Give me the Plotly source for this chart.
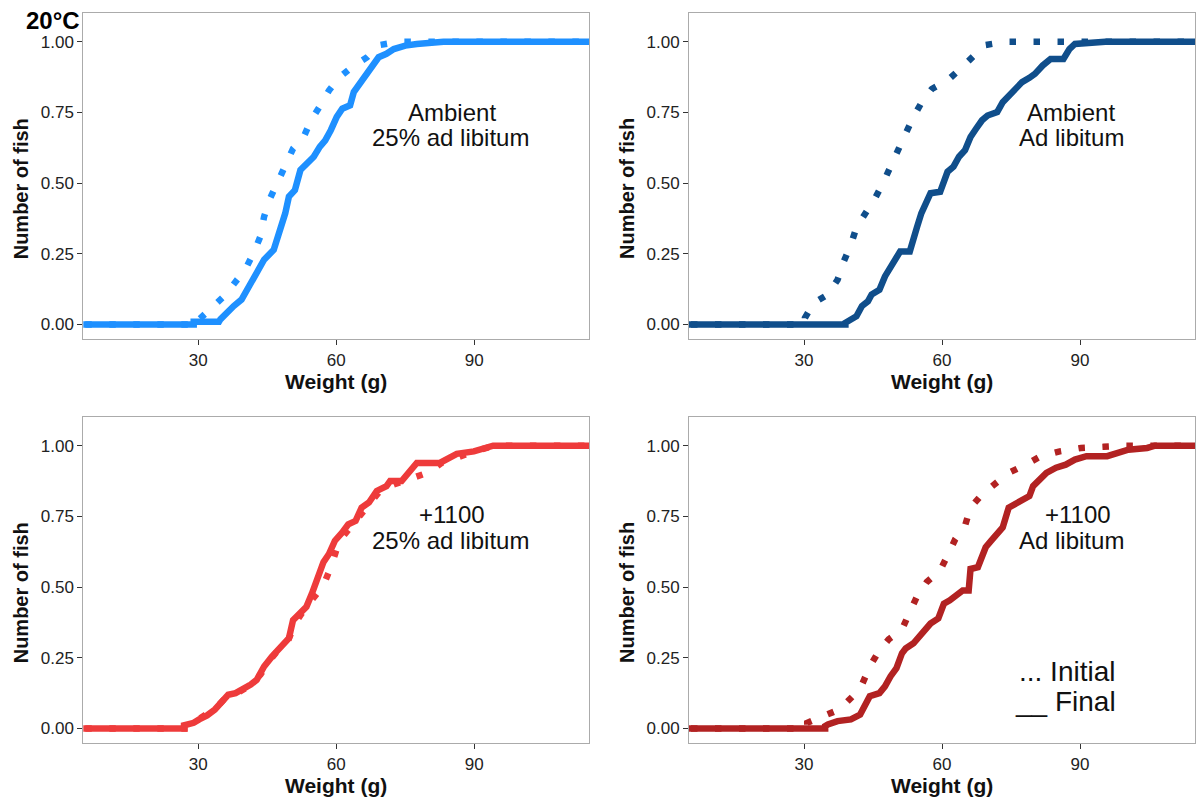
import plotly.graph_objects as go

# ---------------- data: empirical cumulative distributions (weight g, proportion) ----------------
# Panel 1: Ambient, 25% ad libitum
amb25_init_w = [30.2, 33.1, 36.0, 37.9, 40.2, 42.0, 43.5, 44.3, 45.6, 47.2, 48.9, 50.6, 52.9, 54.5, 56.4, 58.4, 60.7, 63.4, 66.7, 69.4, 73.8]
amb25_init_p = [0.018, 0.065, 0.106, 0.147, 0.194, 0.252, 0.311, 0.381, 0.446, 0.501, 0.558, 0.622, 0.663, 0.722, 0.771, 0.827, 0.874, 0.910, 0.945, 0.988, 1.0]
amb25_final_w = [29.0, 34.5, 34.8, 36.0, 37.7, 39.4, 40.6, 42.3, 42.7, 44.3, 46.4, 47.7, 48.9, 49.7, 51.0, 52.2, 53.5, 55.1, 56.4, 57.6, 58.8, 60.1, 61.3, 63.0, 63.8, 65.1, 66.7, 68.0, 69.2, 70.9, 72.5, 75.0, 77.5, 83.3]
amb25_final_p = [0.010, 0.010, 0.018, 0.041, 0.065, 0.088, 0.123, 0.170, 0.188, 0.229, 0.264, 0.323, 0.393, 0.452, 0.475, 0.546, 0.569, 0.593, 0.628, 0.651, 0.687, 0.734, 0.763, 0.775, 0.822, 0.851, 0.880, 0.910, 0.945, 0.957, 0.974, 0.986, 0.992, 1.0]

# Panel 2: Ambient, ad libitum
ambad_init_w = [30.2, 32.1, 35.2, 37.3, 38.5, 40.2, 41.4, 43.5, 45.5, 47.2, 48.8, 50.5, 52.1, 53.8, 55.7, 57.8, 61.2, 64.0, 66.6, 69.3, 74.0]
ambad_init_p = [0.023, 0.076, 0.106, 0.158, 0.217, 0.282, 0.343, 0.393, 0.448, 0.501, 0.561, 0.616, 0.675, 0.734, 0.789, 0.833, 0.863, 0.904, 0.945, 0.988, 1.0]
ambad_final_w = [39.0, 39.8, 41.4, 42.6, 43.9, 44.7, 46.4, 47.6, 48.8, 50.1, 50.9, 53.0, 53.8, 54.6, 55.5, 56.7, 57.5, 59.6, 60.4, 61.2, 62.5, 63.7, 65.0, 66.2, 67.4, 68.7, 69.9, 72.0, 73.2, 74.5, 75.7, 77.4, 79.0, 80.2, 81.9, 83.6, 86.4, 87.7, 88.9, 95.5]
ambad_final_p = [0.006, 0.012, 0.029, 0.065, 0.082, 0.106, 0.123, 0.170, 0.205, 0.235, 0.258, 0.258, 0.311, 0.346, 0.393, 0.440, 0.464, 0.469, 0.505, 0.540, 0.558, 0.593, 0.616, 0.663, 0.692, 0.722, 0.739, 0.751, 0.786, 0.810, 0.833, 0.857, 0.872, 0.886, 0.916, 0.939, 0.939, 0.974, 0.992, 1.0]

# Panel 3: +1100, 25% ad libitum
warm25_init_w = [28.0, 30.0, 32.0, 34.0, 36.0, 38.5, 41.0, 43.5, 45.5, 47.5, 49.5, 51.0, 53.0, 55.0, 57.2, 58.8, 60.0, 61.5, 63.5, 65.5, 67.5, 69.5, 72.0, 76.0, 79.8, 83.0, 87.0, 91.0, 94.5]
warm25_init_p = [0.010, 0.030, 0.050, 0.075, 0.110, 0.125, 0.150, 0.190, 0.240, 0.280, 0.310, 0.370, 0.420, 0.460, 0.506, 0.570, 0.630, 0.680, 0.720, 0.760, 0.800, 0.840, 0.860, 0.880, 0.904, 0.940, 0.965, 0.985, 1.0]
warm25_final_w = [26.9, 29.0, 30.2, 31.9, 33.6, 35.2, 36.5, 38.1, 39.8, 41.4, 42.7, 44.3, 46.0, 47.7, 49.7, 50.6, 52.2, 53.5, 54.7, 56.0, 57.2, 58.4, 59.7, 61.3, 62.6, 64.2, 65.5, 67.1, 68.8, 70.9, 71.7, 74.2, 75.8, 77.5, 82.5, 84.9, 86.2, 89.9, 92.4, 94.1]
warm25_final_p = [0.011, 0.020, 0.032, 0.046, 0.067, 0.096, 0.119, 0.125, 0.139, 0.155, 0.172, 0.219, 0.254, 0.283, 0.319, 0.383, 0.412, 0.430, 0.477, 0.535, 0.588, 0.617, 0.664, 0.693, 0.722, 0.734, 0.781, 0.799, 0.840, 0.857, 0.875, 0.875, 0.904, 0.939, 0.939, 0.957, 0.971, 0.980, 0.992, 1.0]

# Panel 4: +1100, ad libitum
warmad_init_w = [30.7, 34.4, 37.7, 40.6, 42.6, 44.3, 46.0, 48.4, 51.3, 53.0, 54.6, 56.7, 59.6, 61.2, 62.9, 65.0, 66.2, 68.7, 71.6, 74.5, 78.2, 81.5, 85.6, 90.2, 95.1, 99.7]
warmad_init_p = [0.020, 0.043, 0.067, 0.114, 0.155, 0.219, 0.266, 0.315, 0.350, 0.412, 0.468, 0.518, 0.559, 0.611, 0.670, 0.717, 0.781, 0.828, 0.869, 0.904, 0.933, 0.963, 0.980, 0.992, 0.996, 1.0]
warmad_final_w = [34.6, 35.2, 37.3, 40.2, 42.2, 43.1, 44.3, 46.4, 47.6, 48.8, 50.1, 51.3, 52.1, 53.8, 55.0, 56.3, 57.5, 59.2, 60.4, 61.7, 63.3, 64.5, 65.8, 66.2, 67.8, 68.7, 69.5, 70.7, 72.0, 73.2, 74.5, 75.7, 77.4, 79.0, 79.8, 81.1, 82.7, 84.8, 86.9, 88.9, 91.4, 95.9, 98.0, 100.5, 104.6, 106.3]
warmad_final_p = [0.008, 0.014, 0.026, 0.032, 0.049, 0.073, 0.114, 0.125, 0.149, 0.184, 0.213, 0.266, 0.283, 0.301, 0.324, 0.348, 0.371, 0.389, 0.441, 0.453, 0.477, 0.488, 0.488, 0.564, 0.570, 0.617, 0.641, 0.664, 0.687, 0.711, 0.781, 0.793, 0.810, 0.822, 0.857, 0.881, 0.904, 0.922, 0.933, 0.951, 0.963, 0.963, 0.974, 0.986, 0.992, 1.0]

panel_titles = [("Ambient", "25% ad libitum"), ("Ambient", "Ad libitum"),
                ("+1100", "25% ad libitum"), ("+1100", "Ad libitum")]
panel_colors = ["#1E90FF", "#104E8B", "#EE3B3B", "#B22222"]
x_ticks = [30, 60, 90]
y_ticks = [0, 0.25, 0.5, 0.75, 1.0]
y_ticklabels = ["0.00", "0.25", "0.50", "0.75", "1.00"]
x_title = "Weight (g)"
y_title = "Number of fish"
temp_label = "20°C"
legend_initial = "... Initial"
legend_final = "__ Final"

# ---------------- layout geometry ----------------
W, H = 1196, 802
X_RANGE = [5, 115]
Y_RANGE = [-0.0525, 1.1025]
col_px = [(83.3, 589.3), (689.0, 1195.0)]
row_px = [(12.7, 339.3), (416.7, 743.3)]

def xd(px):
    return (px[0] / W, px[1] / W)

def yd(px):
    return (1 - px[1] / H, 1 - px[0] / H)

panels = [
    (amb25_init_w, amb25_init_p, amb25_final_w, amb25_final_p),
    (ambad_init_w, ambad_init_p, ambad_final_w, ambad_final_p),
    (warm25_init_w, warm25_init_p, warm25_final_w, warm25_final_p),
    (warmad_init_w, warmad_init_p, warmad_final_w, warmad_final_p),
]

FONT = "Liberation Sans, Arial, sans-serif"
fig = go.Figure()
pad_lo, pad_hi = X_RANGE[0] - 10, X_RANGE[1] + 10


def ecdf_path(w, p):
    # ECDF is 0 below the smallest weight and 1 above the largest (padded like stat_ecdf)
    return [pad_lo, w[0]] + w + [pad_hi], [0, 0] + p + [1]


for i, (iw, ip, fw, fp) in enumerate(panels):
    ax = "" if i == 0 else str(i + 1)
    col = panel_colors[i]
    xs, ys = ecdf_path(iw, ip)
    fig.add_trace(go.Scatter(
        x=xs, y=ys, mode="lines",
        line=dict(color=col, width=6.5, dash="6.5px,17.5px"),
        xaxis="x" + ax, yaxis="y" + ax, showlegend=False, hoverinfo="skip"))
    xs, ys = ecdf_path(fw, fp)
    fig.add_trace(go.Scatter(
        x=xs, y=ys, mode="lines", line=dict(color=col, width=6.5),
        xaxis="x" + ax, yaxis="y" + ax, showlegend=False, hoverinfo="skip"))

layout = dict(width=W, height=H, margin=dict(l=0, r=0, t=0, b=0),
              paper_bgcolor="white", plot_bgcolor="white",
              font=dict(family=FONT, color="#222222"), showlegend=False)

annotations = []
for i in range(4):
    r, c = divmod(i, 2)
    ax = "" if i == 0 else str(i + 1)
    layout["xaxis" + ax] = dict(domain=xd(col_px[c]), range=X_RANGE, anchor="y" + ax,
                                tickvals=x_ticks, ticks="outside", ticklen=5, tickwidth=1,
                                tickcolor="#333333", showgrid=False, zeroline=False,
                                showline=True, mirror=True, linecolor="#ABABAB", linewidth=1,
                                tickfont=dict(size=17, color="#222222", family=FONT))
    layout["yaxis" + ax] = dict(domain=yd(row_px[r]), range=Y_RANGE, anchor="x" + ax,
                                tickvals=y_ticks, ticktext=y_ticklabels, ticks="outside",
                                ticklen=5, tickwidth=1, tickcolor="#333333",
                                showgrid=False, zeroline=False,
                                showline=True, mirror=True, linecolor="#ABABAB", linewidth=1,
                                tickfont=dict(size=17, color="#222222", family=FONT))
    cx = (col_px[c][0] + col_px[c][1]) / 2 / W
    annotations.append(dict(text=x_title, x=cx, y=1 - (row_px[r][1] + 42) / H,
                            xref="paper", yref="paper", showarrow=False,
                            xanchor="center", yanchor="middle",
                            font=dict(size=21, family=FONT, color="#111111", weight="bold")))
    cy = 1 - ((row_px[r][0] + row_px[r][1]) / 2 + 13) / H
    annotations.append(dict(text=y_title, x=(col_px[c][0] - 62) / W, y=cy,
                            xref="paper", yref="paper", showarrow=False, textangle=-90,
                            xanchor="center", yanchor="middle",
                            font=dict(size=20, family=FONT, color="#111111", weight="bold")))

# panel labels (data coordinates)
label_pos = [((85.1, 0.750), (84.9, 0.660)), ((88.1, 0.750), (88.1, 0.660)),
             ((85.2, 0.758), (84.9, 0.664)), ((89.6, 0.756), (88.1, 0.664))]
for i in range(4):
    ax = "" if i == 0 else str(i + 1)
    for (lx, ly), txt in zip(label_pos[i], panel_titles[i]):
        annotations.append(dict(text=txt, x=lx, y=ly, xref="x" + ax, yref="y" + ax,
                                showarrow=False, xanchor="center", yanchor="middle",
                                font=dict(size=24, family=FONT, color="#111111")))

# legend-like text in panel 4
annotations.append(dict(text=legend_initial, x=76.2, y=0.200, xref="x4", yref="y4",
                        showarrow=False, xanchor="left", yanchor="middle",
                        font=dict(size=28, family=FONT, color="#111111")))
annotations.append(dict(text=legend_final, x=75.5, y=0.094, xref="x4", yref="y4",
                        showarrow=False, xanchor="left", yanchor="middle",
                        font=dict(size=28, family=FONT, color="#111111")))

annotations.append(dict(text=temp_label, x=82 / W, y=1 - 20 / H, xref="paper", yref="paper",
                        showarrow=False, xanchor="right", yanchor="middle",
                        font=dict(size=24, family=FONT, color="#000000", weight="bold")))

layout["annotations"] = annotations
fig.update_layout(**layout)
fig.write_html("out.html")
